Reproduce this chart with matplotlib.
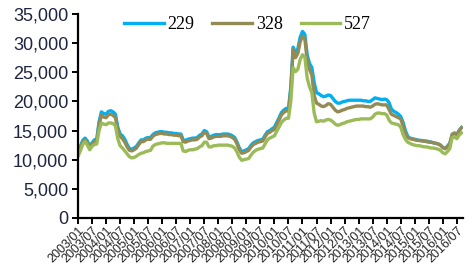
import numpy as np
import matplotlib.pyplot as plt
from matplotlib.ticker import FuncFormatter

# monthly values, 2003/01 .. 2016/09 (thousands)
s229 = [11.3, 12.3, 13.3, 13.7, 13.2, 12.2, 12.9, 13.4, 13.5, 16.5,
        18.2, 17.9, 17.8, 18.3, 18.4, 18.2, 17.8, 15.6, 14.4, 14.1,
        13.5, 12.6, 11.9, 11.8, 12.0, 12.3, 12.9, 13.4, 13.4, 13.7,
        13.8, 13.8, 14.3, 14.6, 14.7, 14.8, 14.8, 14.7, 14.7, 14.6,
        14.6, 14.5, 14.5, 14.4, 14.4, 13.4, 13.3, 13.5, 13.6, 13.7,
        13.7, 13.8, 14.2, 14.4, 15.0, 14.8, 13.9, 14.0, 14.2, 14.3,
        14.3, 14.3, 14.4, 14.4, 14.4, 14.3, 14.1, 13.8, 13.0, 12.0,
        11.4, 11.5, 11.7, 11.9, 12.5, 12.9, 13.1, 13.3, 13.4, 13.5,
        14.2, 14.8, 15.0, 15.3, 15.6, 16.4, 17.2, 18.1, 18.5, 18.8,
        18.7, 22.5, 29.3, 28.4, 29.0, 31.0, 32.0, 31.5, 28.0, 26.5,
        25.8, 23.2, 21.5, 21.3, 21.0, 20.8, 20.9, 21.1, 21.0, 20.5,
        20.0, 19.7, 19.7, 19.9, 20.0, 20.1, 20.2, 20.2, 20.2, 20.2,
        20.2, 20.2, 20.1, 20.1, 20.0, 20.0, 20.3, 20.6, 20.5, 20.4,
        20.3, 20.4, 20.3, 19.8, 18.7, 18.3, 18.1, 17.8, 17.4, 16.4,
        15.0, 14.0, 13.7, 13.6, 13.5, 13.4, 13.3, 13.3, 13.2, 13.2,
        13.1, 13.0, 12.9, 12.8, 12.7, 12.5, 12.1, 11.9, 12.3, 12.8,
        14.2, 14.6, 14.3, 15.0, 15.5]
s328 = [11.0, 12.0, 13.0, 13.4, 12.9, 12.0, 12.7, 13.1, 13.2, 16.0,
        17.6, 17.3, 17.2, 17.7, 17.8, 17.6, 17.2, 15.1, 14.0, 13.6,
        13.0, 12.2, 11.6, 11.5, 11.7, 12.0, 12.6, 13.1, 13.1, 13.4,
        13.5, 13.5, 14.0, 14.3, 14.4, 14.5, 14.5, 14.4, 14.4, 14.3,
        14.3, 14.2, 14.2, 14.1, 14.1, 13.1, 13.0, 13.2, 13.3, 13.4,
        13.4, 13.5, 13.9, 14.1, 14.7, 14.5, 13.6, 13.7, 13.9, 14.0,
        14.0, 14.0, 14.1, 14.1, 14.1, 14.0, 13.8, 13.5, 12.7, 11.7,
        11.1, 11.2, 11.4, 11.6, 12.2, 12.6, 12.8, 13.0, 13.1, 13.2,
        13.9, 14.5, 14.7, 15.0, 15.2, 16.0, 16.8, 17.7, 18.1, 18.4,
        18.3, 22.0, 28.9, 27.5, 28.2, 30.2, 31.2, 30.7, 27.0, 25.5,
        24.5, 21.0, 19.7, 19.5, 19.2, 19.1, 19.3, 19.6, 19.5, 19.0,
        18.5, 18.2, 18.3, 18.5, 18.6, 18.8, 18.9, 19.0, 19.1, 19.2,
        19.2, 19.2, 19.2, 19.1, 19.1, 19.0, 19.2, 19.5, 19.6, 19.5,
        19.4, 19.4, 19.4, 18.6, 17.8, 17.6, 17.4, 17.2, 17.0, 15.8,
        14.5, 13.8, 13.6, 13.5, 13.4, 13.3, 13.3, 13.2, 13.2, 13.1,
        13.0, 13.0, 12.9, 12.8, 12.7, 12.5, 12.1, 11.9, 12.3, 12.8,
        14.4, 14.5, 14.3, 15.0, 15.5]
s527 = [10.6, 11.5, 12.6, 13.1, 12.5, 11.7, 12.3, 12.6, 12.7, 15.0,
        16.3, 16.1, 16.0, 16.3, 16.3, 16.2, 15.8, 13.6, 12.4, 12.0,
        11.5, 11.0, 10.5, 10.3, 10.4, 10.6, 10.9, 11.1, 11.2, 11.4,
        11.5, 11.6, 12.3, 12.6, 12.7, 12.8, 12.9, 12.9, 12.8, 12.8,
        12.8, 12.8, 12.8, 12.8, 12.8, 11.5, 11.4, 11.6, 11.7, 11.7,
        11.8, 11.9, 12.2, 12.4, 13.0, 13.0, 12.2, 12.2, 12.4, 12.4,
        12.5, 12.5, 12.5, 12.5, 12.5, 12.4, 12.3, 12.0, 11.3, 10.4,
        9.9, 10.0, 10.1, 10.2, 10.8, 11.3, 11.6, 11.8, 11.9, 12.0,
        12.7, 13.4, 13.7, 13.9, 14.1, 14.9, 15.6, 16.4, 16.8, 17.1,
        17.1, 20.0, 25.8, 25.1, 25.5, 27.2, 28.0, 27.6, 24.0, 22.5,
        21.5, 18.0, 16.5, 16.6, 16.7, 16.6, 16.8, 16.9, 16.8, 16.5,
        16.1, 15.9, 16.0, 16.2, 16.3, 16.5, 16.6, 16.7, 16.8, 16.9,
        16.9, 17.0, 17.0, 17.0, 17.0, 17.0, 17.3, 17.8, 18.0, 18.0,
        17.9, 17.9, 17.7, 16.8, 16.3, 16.2, 16.1, 16.0, 15.6, 14.3,
        13.5, 13.0, 12.8, 12.6, 12.5, 12.4, 12.4, 12.3, 12.2, 12.2,
        12.1, 12.0, 12.0, 11.9, 11.8, 11.6, 11.2, 11.0, 11.4, 11.9,
        13.8, 13.9, 13.6, 14.2, 14.6]

tick_labels = [f"{y}/{m}" for y in range(2003, 2017) for m in ("01", "07")]

x = np.arange(len(s229))

fig = plt.figure(figsize=(4.74, 2.71), dpi=100)
ax = fig.add_axes([0.1646, 0.1956, 0.812, 0.753])

ax.plot(x, np.array(s229) * 1000, color="#00B0F0", lw=2.4, label="229")
ax.plot(x, np.array(s328) * 1000, color="#948A54", lw=2.4, label="328")
ax.plot(x, np.array(s527) * 1000, color="#9BBB59", lw=2.4, label="527")

ax.set_xlim(0, 164.6)
ax.set_ylim(0, 35000)
ax.set_yticks(np.arange(0, 35001, 5000))
ax.yaxis.set_major_formatter(FuncFormatter(lambda v, p: f"{v:,.0f}"))
ax.set_xticks(np.arange(0, len(tick_labels) * 6, 6))
ax.set_xticklabels(tick_labels, rotation=45, ha="right", rotation_mode="anchor",
                   fontsize=9, family="Liberation Sans", color="#222222")
for lab in ax.get_yticklabels():
    lab.set_family("Liberation Sans")
    lab.set_fontsize(13)
    lab.set_color("#1F2440")

for s in ("top", "right"):
    ax.spines[s].set_visible(False)
for s in ("left", "bottom"):
    ax.spines[s].set_linewidth(1.6)
    ax.spines[s].set_color("black")
ax.tick_params(axis="both", direction="out", length=4, width=1.4, color="black")
ax.tick_params(axis="x", pad=1)
ax.tick_params(axis="y", pad=3)

ax.legend(loc="upper center", bbox_to_anchor=(0.44, 1.07), ncol=3, frameon=False,
          handlelength=2.2, handletextpad=0.2, columnspacing=1.0,
          prop={"family": "Liberation Serif", "size": 13})

fig.savefig("out.png", dpi=100)
